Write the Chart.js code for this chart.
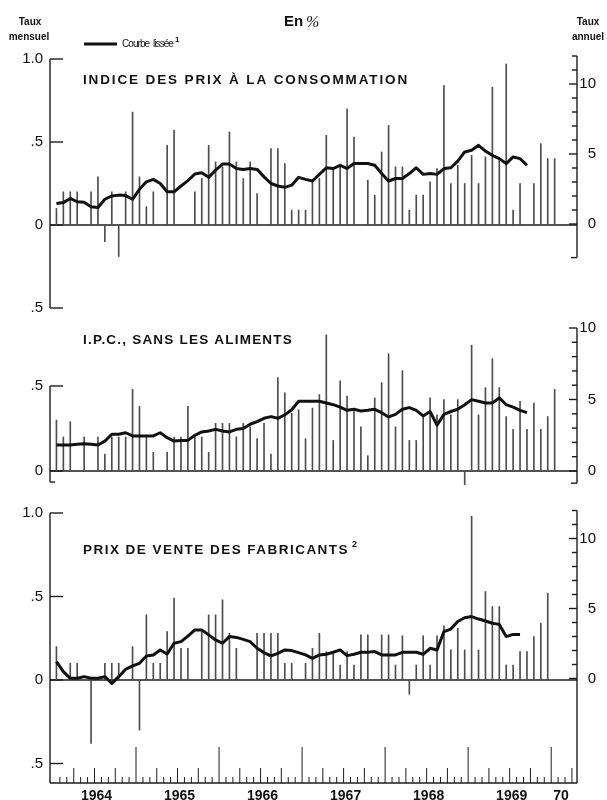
<!DOCTYPE html>
<html>
<head>
<meta charset="utf-8">
<script src="https://cdn.jsdelivr.net/npm/chart.js@4.4.1/dist/chart.umd.min.js"></script>
<style>
  html, body { margin: 0; padding: 0; background: #fff; }
  #wrap { position: relative; width: 607px; height: 800px; }
</style>
</head>
<body>
<div id="wrap"><canvas id="prix" width="607" height="800"></canvas></div>
<script>
// Variations mensuelles en %, un point par mois depuis janvier 1964 (null = pas de trait)
const ipcMensuel = [
  0.10, 0.20, 0.20, 0.20, null, 0.20, 0.29, -0.10, 0.20, -0.19, 0.20, 0.68,
  0.29, 0.11, 0.20, null, 0.48, 0.57, null, null, 0.20, 0.28, 0.48, 0.38,
  0.35, 0.56, 0.38, 0.28, 0.38, 0.19, null, 0.46, 0.46, 0.37, 0.09, 0.09,
  0.09, 0.26, 0.28, 0.54, 0.34, 0.35, 0.70, 0.53, null, 0.27, 0.18, 0.44,
  0.60, 0.35, 0.35, 0.09, 0.18, 0.18, 0.26, 0.34, 0.84, 0.25, 0.36, 0.25,
  0.42, 0.25, 0.41, 0.83, 0.39, 0.97, 0.09, 0.25, null, 0.25, 0.49, 0.40,
  0.40
];
const ipcLisse = [
  0.13, 0.135, 0.16, 0.14, 0.137, 0.11, 0.106, 0.155, 0.175, 0.18, 0.177, 0.155,
  0.215, 0.26, 0.275, 0.25, 0.20, 0.20, 0.235, 0.267, 0.307, 0.315, 0.287, 0.33,
  0.367, 0.367, 0.34, 0.335, 0.34, 0.335, 0.29, 0.25, 0.235, 0.227, 0.24, 0.287,
  0.275, 0.265, 0.305, 0.345, 0.34, 0.36, 0.34, 0.37, 0.37, 0.37, 0.36, 0.31,
  0.265, 0.28, 0.28, 0.31, 0.345, 0.305, 0.31, 0.305, 0.34, 0.345, 0.385, 0.44,
  0.45, 0.48, 0.445, 0.42, 0.40, 0.37, 0.41, 0.40, 0.36
];

const sansAlimMensuel = [
  0.30, 0.20, 0.29, null, 0.20, null, 0.20, 0.10, 0.20, 0.20, 0.20, 0.48,
  0.38, 0.21, 0.11, null, 0.11, 0.20, 0.20, 0.38, 0.20, 0.20, 0.11, 0.28,
  0.28, 0.28, 0.20, 0.28, 0.26, 0.19, 0.28, 0.10, 0.55, 0.46, 0.34, 0.36,
  0.19, 0.37, 0.45, 0.80, 0.18, 0.53, 0.44, 0.35, 0.26, 0.09, 0.43, 0.52,
  0.69, 0.26, 0.59, 0.18, 0.18, 0.32, 0.43, 0.33, 0.42, 0.33, 0.42, -0.08,
  0.74, 0.33, 0.49, 0.66, 0.49, 0.32, 0.245, 0.41, 0.245, 0.40, 0.245, 0.32,
  0.48
];
const sansAlimLisse = [
  0.153, 0.153, 0.153, 0.157, 0.16, 0.157, 0.153, 0.176, 0.216, 0.216, 0.225, 0.206,
  0.206, 0.206, 0.206, 0.225, 0.196, 0.176, 0.18, 0.18, 0.21, 0.23, 0.235, 0.245,
  0.235, 0.23, 0.245, 0.25, 0.275, 0.29, 0.31, 0.32, 0.31, 0.33, 0.36, 0.41,
  0.41, 0.41, 0.41, 0.40, 0.39, 0.376, 0.357, 0.363, 0.353, 0.357, 0.363, 0.343,
  0.318, 0.333, 0.363, 0.373, 0.357, 0.324, 0.35, 0.27, 0.333, 0.35, 0.363, 0.39,
  0.42, 0.41, 0.40, 0.40, 0.43, 0.39, 0.376, 0.357, 0.343
];

const fabMensuel = [
  0.20, null, 0.10, 0.10, null, -0.38, null, 0.10, 0.10, 0.10, null, 0.20,
  -0.30, 0.39, 0.10, 0.10, 0.29, 0.49, 0.19, 0.19, null, 0.29, 0.39, 0.39,
  0.48, 0.28, 0.19, null, null, 0.28, 0.28, 0.28, 0.28, 0.10, 0.10, null,
  0.10, 0.19, 0.28, 0.17, 0.16, 0.09, 0.17, 0.09, 0.27, 0.27, null, 0.27,
  0.27, 0.09, 0.265, -0.085, 0.09, 0.265, 0.09, 0.265, 0.325, 0.18, 0.31, 0.18,
  0.98, 0.18, 0.53, 0.44, 0.44, 0.09, 0.09, 0.17, 0.17, 0.26, 0.34, 0.52
];
const fabLisse = [
  0.11, 0.05, 0.01, 0.01, 0.02, 0.01, 0.01, 0.02, -0.02, 0.02, 0.064, 0.084,
  0.10, 0.144, 0.15, 0.18, 0.156, 0.22, 0.23, 0.263, 0.30, 0.30, 0.27, 0.24,
  0.22, 0.26, 0.255, 0.243, 0.23, 0.19, 0.164, 0.144, 0.16, 0.18, 0.176, 0.164,
  0.15, 0.13, 0.15, 0.154, 0.166, 0.18, 0.146, 0.154, 0.166, 0.166, 0.17, 0.15,
  0.15, 0.15, 0.166, 0.166, 0.166, 0.154, 0.19, 0.18, 0.29, 0.305, 0.35, 0.373,
  0.38, 0.365, 0.353, 0.34, 0.333, 0.26, 0.273, 0.273
];

const annees = ['1964', '1965', '1966', '1967', '1968', '1969', '70'];
const titres = ['INDICE DES PRIX À LA CONSOMMATION', 'I.P.C., SANS LES ALIMENTS', 'PRIX DE VENTE DES FABRICANTS'];
const notes = ['', '', '2'];
const ticksMensuels = [[1.0, 0.5, 0, -0.5], [0.5, 0], [1.0, 0.5, 0, -0.5]];
const etiqMensuelles = [['1.0', '.5', '0', '.5'], ['.5', '0'], ['1.0', '.5', '0', '.5']];
const ticksAnnuels = [0, 5, 10];

// géométrie de la page
const HAUT = 0, BAS = 783, GAUCHE = 50, DROITE = 577;
const X_MIN = -0.43, X_MAX = 75.73;

// bornes d'un axe pour que le zéro et l'unité tombent à la bonne hauteur
function bornes(zeroY, pxParUnite) {
  return { min: (zeroY - BAS) / pxParUnite, max: (zeroY - HAUT) / pxParUnite };
}

const panneaux = [
  { m: 'yIpc', a: 'aIpc', zeroM: 225, pxM: 166, zeroA: 224, pxA: 14, titreY: 80,
    gauche: [1.0, -0.5], droite: [12, -2.4] },
  { m: 'yAlim', a: 'aAlim', zeroM: 471, pxM: 170, zeroA: 471, pxA: 14.3, titreY: 340,
    gauche: [0.5, -0.065], droite: [10, -0.85] },
  { m: 'yFab', a: 'aFab', zeroM: 680, pxM: 167, zeroA: 678.5, pxA: 14, titreY: 550,
    gauche: [1.0, null], droite: [12, null] }
];

function barres(vals, axe) {
  return {
    type: 'bar',
    data: vals.map((v, i) => ({ x: i + 0.5, y: v })),
    yAxisID: axe,
    backgroundColor: '#4d4d4d',
    barThickness: 1,
    grouped: false,
    order: 2
  };
}

function courbe(vals, axe) {
  return {
    type: 'line',
    data: vals.map((v, i) => ({ x: i + 0.5, y: v })),
    yAxisID: axe,
    borderColor: '#111',
    borderWidth: 3,
    pointRadius: 0,
    tension: 0,
    borderJoinStyle: 'round',
    order: 1
  };
}

function trait(ctx, x1, y1, x2, y2) {
  ctx.beginPath();
  ctx.moveTo(x1, y1);
  ctx.lineTo(x2, y2);
  ctx.stroke();
}

function ecrire(ctx, txt, x, y, font, align, largeur) {
  ctx.font = font;
  ctx.textAlign = align || 'left';
  ctx.textBaseline = 'middle';
  ctx.letterSpacing = '0px';
  if (largeur) {
    const nat = ctx.measureText(txt).width;
    ctx.letterSpacing = ((largeur - nat) / txt.length) + 'px';
  }
  ctx.fillText(txt, x, y);
  ctx.letterSpacing = '0px';
}

const habillage = {
  id: 'habillage',
  beforeDatasetsDraw(chart) {
    const { ctx, scales } = chart;
    const sx = scales.x;
    ctx.save();
    ctx.strokeStyle = '#1c1c1c';
    ctx.lineWidth = 1.4;

    panneaux.forEach((p, k) => {
      const sm = scales[p.m], sa = scales[p.a];
      const z = sm.getPixelForValue(0);
      // ligne du zéro
      trait(ctx, GAUCHE, z, DROITE, z);

      // axe mensuel à gauche
      const gTop = sm.getPixelForValue(p.gauche[0]);
      const gBas = p.gauche[1] === null ? BAS : sm.getPixelForValue(p.gauche[1]);
      trait(ctx, GAUCHE, gTop, GAUCHE, gBas);
      ticksMensuels[k].forEach(v => {
        const y = sm.getPixelForValue(v);
        trait(ctx, GAUCHE, y, GAUCHE + 13, y);
      });
      if (p.gauche[1] !== null && p.gauche[1] > -0.4) trait(ctx, GAUCHE, gBas, GAUCHE + 5, gBas);

      // axe annuel à droite
      const dTop = sa.getPixelForValue(p.droite[0]);
      const dBas = p.droite[1] === null ? BAS : sa.getPixelForValue(p.droite[1]);
      trait(ctx, DROITE, dTop, DROITE, dBas);
      for (let v = 0; v <= p.droite[0]; v++) {
        const y = sa.getPixelForValue(v);
        trait(ctx, DROITE, y, DROITE - (v % 5 === 0 ? 8 : 5), y);
      }
      if (p.droite[1] !== null) trait(ctx, DROITE, dBas, DROITE - 6, dBas);
    });

    // axe du temps
    trait(ctx, GAUCHE, BAS, DROITE, BAS);
    ctx.lineWidth = 1;
    for (let m = 1; m <= 75; m++) {
      const x = sx.getPixelForValue(m);
      const h = m % 12 === 0 ? 36 : (m % 3 === 0 ? 15 : 6);
      trait(ctx, x, BAS, x, BAS - h);
    }
    ctx.restore();
  },
  afterDraw(chart) {
    const { ctx, scales } = chart;
    const sx = scales.x;
    ctx.save();
    ctx.fillStyle = '#111';

    // en-tête
    ecrire(ctx, 'Taux', 30, 22, 'bold 10px "Liberation Sans"', 'center');
    ecrire(ctx, 'mensuel', 29, 37, 'bold 10px "Liberation Sans"', 'center');
    ecrire(ctx, 'Taux', 588, 22, 'bold 10px "Liberation Sans"', 'center');
    ecrire(ctx, 'annuel', 588, 37, 'bold 10px "Liberation Sans"', 'center');
    ecrire(ctx, 'En', 284, 22, 'bold 15px "Liberation Sans"', 'left');
    ecrire(ctx, '%', 306, 23, 'italic 16px "Liberation Serif"', 'left');

    ctx.strokeStyle = '#111';
    ctx.lineWidth = 3;
    trait(ctx, 84, 44, 117, 44);
    ecrire(ctx, 'Courbe  lissée', 122, 44, '10px "Liberation Sans"', 'left', 51);
    ecrire(ctx, '1', 175, 40, 'bold 8px "Liberation Sans"', 'left');

    panneaux.forEach((p, k) => {
      const sm = scales[p.m], sa = scales[p.a];
      // titre du panneau
      const larg = [326, 210, 266][k];
      ecrire(ctx, titres[k], 83, p.titreY, 'bold 13.5px "Liberation Sans"', 'left', larg);
      if (notes[k]) ecrire(ctx, notes[k], 83 + larg + 3, p.titreY - 5, 'bold 9px "Liberation Sans"', 'left');

      ticksMensuels[k].forEach((v, i) => {
        ecrire(ctx, etiqMensuelles[k][i], 43, sm.getPixelForValue(v), '15px "Liberation Sans"', 'right');
      });
      ticksAnnuels.forEach(v => {
        if (v > p.droite[0]) return;
        ecrire(ctx, String(v), 596, sa.getPixelForValue(v), '15px "Liberation Sans"', 'right');
      });
    });

    // années
    annees.forEach((a, i) => {
      if (i < 6) {
        ecrire(ctx, a, sx.getPixelForValue(12 * i + 6) + 2, 796, 'bold 14px "Liberation Sans"', 'center');
      } else {
        ecrire(ctx, a, sx.getPixelForValue(12 * i) + 2, 796, 'bold 14px "Liberation Sans"', 'left');
      }
    });
    ctx.restore();
  }
};

const b1 = bornes(panneaux[0].zeroM, panneaux[0].pxM);
const a1 = bornes(panneaux[0].zeroA, panneaux[0].pxA);
const b2 = bornes(panneaux[1].zeroM, panneaux[1].pxM);
const a2 = bornes(panneaux[1].zeroA, panneaux[1].pxA);
const b3 = bornes(panneaux[2].zeroM, panneaux[2].pxM);
const a3 = bornes(panneaux[2].zeroA, panneaux[2].pxA);

new Chart(document.getElementById('prix'), {
  type: 'bar',
  data: {
    datasets: [
      barres(ipcMensuel, 'yIpc'),
      courbe(ipcLisse, 'yIpc'),
      barres(sansAlimMensuel, 'yAlim'),
      courbe(sansAlimLisse, 'yAlim'),
      barres(fabMensuel, 'yFab'),
      courbe(fabLisse, 'yFab')
    ]
  },
  options: {
    responsive: false,
    animation: false,
    layout: { padding: { left: GAUCHE, right: 607 - DROITE, top: HAUT, bottom: 800 - BAS } },
    plugins: { legend: { display: false }, tooltip: { enabled: false } },
    scales: {
      x: { type: 'linear', offset: false, min: X_MIN, max: X_MAX, display: false },
      yIpc: { type: 'linear', axis: 'y', position: 'left', min: b1.min, max: b1.max, display: false },
      aIpc: { type: 'linear', axis: 'y', position: 'right', min: a1.min, max: a1.max, display: false },
      yAlim: { type: 'linear', axis: 'y', position: 'left', min: b2.min, max: b2.max, display: false },
      aAlim: { type: 'linear', axis: 'y', position: 'right', min: a2.min, max: a2.max, display: false },
      yFab: { type: 'linear', axis: 'y', position: 'left', min: b3.min, max: b3.max, display: false },
      aFab: { type: 'linear', axis: 'y', position: 'right', min: a3.min, max: a3.max, display: false }
    }
  },
  plugins: [habillage]
});
</script>
</body>
</html>
